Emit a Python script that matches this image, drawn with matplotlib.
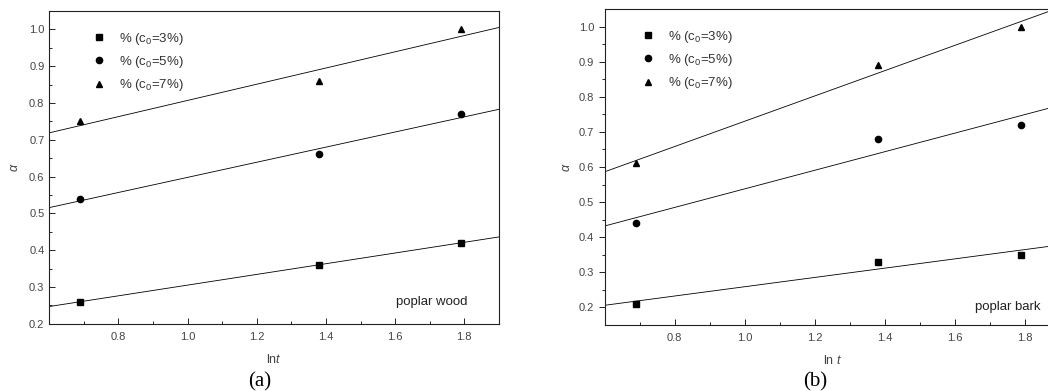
"""
Two panels of alpha vs ln t with linear fits (poplar wood / poplar bark).
"""

import numpy as np
import matplotlib
matplotlib.use("Agg")
import matplotlib.pyplot as plt

plt.rcParams['font.family'] = ['Liberation Sans', 'DejaVu Sans']
plt.rcParams['mathtext.fontset'] = 'custom'
plt.rcParams['mathtext.rm'] = 'Liberation Sans'
plt.rcParams['mathtext.it'] = 'Liberation Sans:italic'

# ln t values (2, 4, 6 h)
lnt = [0.69, 1.38, 1.79]

# poplar wood
wood_c3 = [0.26, 0.36, 0.42]
wood_c5 = [0.54, 0.66, 0.77]
wood_c7 = [0.75, 0.86, 1.00]

# poplar bark
bark_c3 = [0.21, 0.33, 0.35]
bark_c5 = [0.44, 0.68, 0.72]
bark_c7 = [0.61, 0.89, 1.00]

labels = ['% (c$_0$=3%)', '% (c$_0$=5%)', '% (c$_0$=7%)']
markers = ['s', 'o', '^']

fig = plt.figure(figsize=(10.48, 3.91), dpi=100)
ax_a = fig.add_axes([0.047, 0.172, 0.429, 0.800])
ax_b = fig.add_axes([0.577, 0.169, 0.434, 0.808])

def draw(ax, series, ylim, tickdir_y):
    xfit = np.array([0.6, 1.9])
    for y, m, lab in zip(series, markers, labels):
        ax.plot(lnt, y, linestyle='none', marker=m, color='black',
                markersize=4.5, label=lab)
        k, b = np.polyfit(lnt, y, 1)
        ax.plot(xfit, k * xfit + b, color='black', lw=0.6)
    ax.set_xlim(0.6, 1.9)
    ax.set_ylim(*ylim)
    ax.set_xticks([0.8, 1.0, 1.2, 1.4, 1.6, 1.8])
    ax.set_xticks(np.arange(0.7, 1.9, 0.2), minor=True)
    ax.set_yticks(np.arange(0.2, 1.01, 0.1))
    ax.set_yticks(np.arange(0.25, 1.05, 0.1), minor=True)
    ax.tick_params(axis='x', which='both', direction='in', labelsize=8,
                   labelcolor='#444444', pad=6)
    ax.tick_params(axis='y', which='both', direction=tickdir_y, labelsize=8,
                   labelcolor='#444444')
    ax.tick_params(which='major', length=4, width=0.6)
    ax.tick_params(which='minor', length=2.5, width=0.6)
    ax.yaxis.set_major_formatter(matplotlib.ticker.FormatStrFormatter('%.1f'))
    for s in ax.spines.values():
        s.set_linewidth(0.8)
        s.set_color('#222222')

draw(ax_a, [wood_c3, wood_c5, wood_c7], (0.2, 1.05), 'in')
draw(ax_b, [bark_c3, bark_c5, bark_c7], (0.15, 1.05), 'out')

ax_a.legend(loc='upper left', bbox_to_anchor=(0.07, 0.975), frameon=False,
            fontsize=9.5, handletextpad=1.0, labelspacing=0.55,
            handlelength=1.0, labelcolor='#333333')
ax_b.legend(loc='upper left', bbox_to_anchor=(0.055, 0.975), frameon=False,
            fontsize=9.5, handletextpad=1.0, labelspacing=0.55,
            handlelength=1.0, labelcolor='#333333')

ax_a.set_ylabel(r'$\alpha$', fontsize=9, color='#444444', labelpad=6)
ax_b.set_ylabel(r'$\alpha$', fontsize=9, color='#444444', labelpad=4)
ax_a.set_xlabel(r'ln$t$', fontsize=9, color='#444444', labelpad=8)
ax_b.set_xlabel(r'ln $t$', fontsize=9, color='#444444', labelpad=8)

ax_a.text(0.931, 0.069, 'poplar wood', transform=ax_a.transAxes, fontsize=9.5,
          ha='right', va='center', color='#222222')
ax_b.text(0.815, 0.057, 'poplar bark', transform=ax_b.transAxes, fontsize=9.5,
          ha='left', va='center', color='#222222')

fig.text(0.248, 0.024, '(a)', fontsize=15, family='Liberation Serif',
         ha='center', va='center')
fig.text(0.778, 0.024, '(b)', fontsize=15, family='Liberation Serif',
         ha='center', va='center')

fig.savefig('out.png', dpi=100)
